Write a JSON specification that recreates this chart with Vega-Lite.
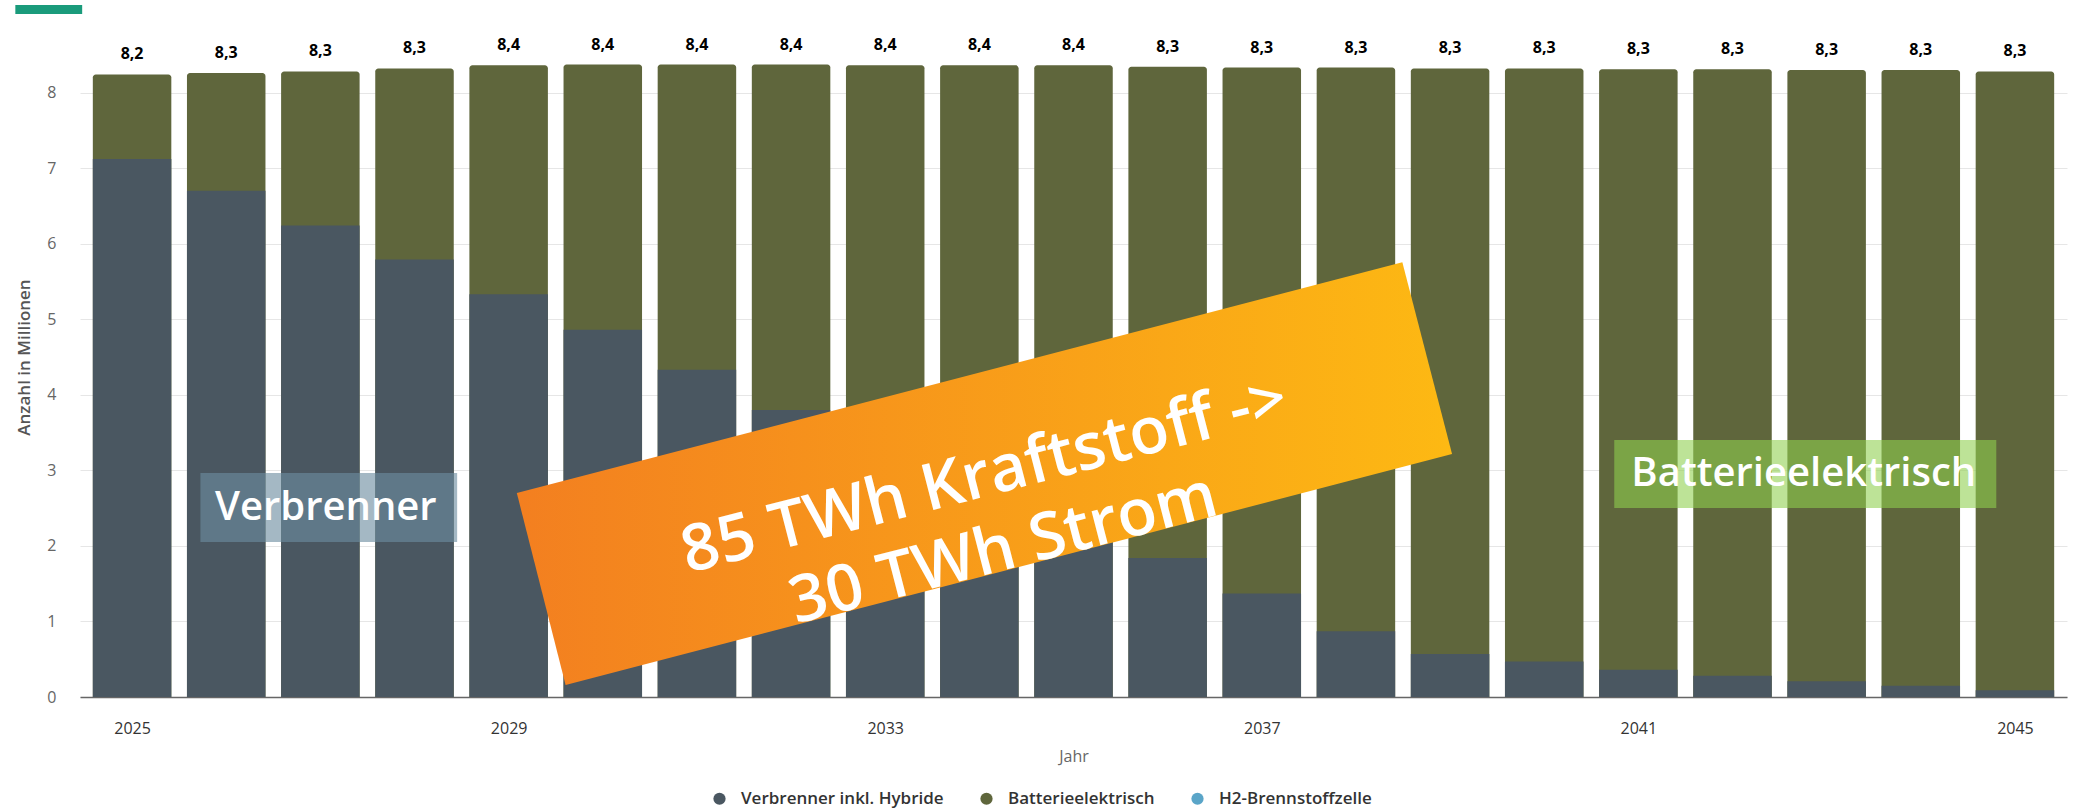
{
  "$schema": "https://vega.github.io/schema/vega-lite/v6.json",
  "width": 1987,
  "height": 680,
  "autosize": {"type": "none"},
  "padding": {"left": 80, "top": 17, "right": 11, "bottom": 113},
  "background": "white",
  "config": {
    "view": {"stroke": null},
    "font": "Open Sans",
    "locale": {"number": {"decimal": ",", "thousands": ".", "grouping": [3], "currency": ["", " €"]}},
    "legend": {
      "title": null, "orient": "none", "direction": "horizontal",
      "legendX": 631, "legendY": 773, "padding": 0,
      "symbolType": "circle", "symbolSize": 150, "symbolStrokeWidth": 0,
      "labelFontSize": 17, "labelFontWeight": 600, "labelColor": "#333333", "labelLimit": 400,
      "labelOffset": 13, "columnPadding": 34
    }
  },
  "datasets": {
    "fleet": [
      {"year": 2025, "type": "Verbrenner inkl. Hybride", "value": 7.12}, {"year": 2025, "type": "Batterieelektrisch", "value": 1.12},
      {"year": 2026, "type": "Verbrenner inkl. Hybride", "value": 6.70}, {"year": 2026, "type": "Batterieelektrisch", "value": 1.56},
      {"year": 2027, "type": "Verbrenner inkl. Hybride", "value": 6.24}, {"year": 2027, "type": "Batterieelektrisch", "value": 2.04},
      {"year": 2028, "type": "Verbrenner inkl. Hybride", "value": 5.79}, {"year": 2028, "type": "Batterieelektrisch", "value": 2.53},
      {"year": 2029, "type": "Verbrenner inkl. Hybride", "value": 5.33}, {"year": 2029, "type": "Batterieelektrisch", "value": 3.03},
      {"year": 2030, "type": "Verbrenner inkl. Hybride", "value": 4.86}, {"year": 2030, "type": "Batterieelektrisch", "value": 3.51},
      {"year": 2031, "type": "Verbrenner inkl. Hybride", "value": 4.33}, {"year": 2031, "type": "Batterieelektrisch", "value": 4.04},
      {"year": 2032, "type": "Verbrenner inkl. Hybride", "value": 3.80}, {"year": 2032, "type": "Batterieelektrisch", "value": 4.57},
      {"year": 2033, "type": "Verbrenner inkl. Hybride", "value": 3.31}, {"year": 2033, "type": "Batterieelektrisch", "value": 5.05},
      {"year": 2034, "type": "Verbrenner inkl. Hybride", "value": 2.82}, {"year": 2034, "type": "Batterieelektrisch", "value": 5.54},
      {"year": 2035, "type": "Verbrenner inkl. Hybride", "value": 2.33}, {"year": 2035, "type": "Batterieelektrisch", "value": 6.03},
      {"year": 2036, "type": "Verbrenner inkl. Hybride", "value": 1.84}, {"year": 2036, "type": "Batterieelektrisch", "value": 6.50},
      {"year": 2037, "type": "Verbrenner inkl. Hybride", "value": 1.37}, {"year": 2037, "type": "Batterieelektrisch", "value": 6.96},
      {"year": 2038, "type": "Verbrenner inkl. Hybride", "value": 0.87}, {"year": 2038, "type": "Batterieelektrisch", "value": 7.46},
      {"year": 2039, "type": "Verbrenner inkl. Hybride", "value": 0.57}, {"year": 2039, "type": "Batterieelektrisch", "value": 7.75},
      {"year": 2040, "type": "Verbrenner inkl. Hybride", "value": 0.47}, {"year": 2040, "type": "Batterieelektrisch", "value": 7.85},
      {"year": 2041, "type": "Verbrenner inkl. Hybride", "value": 0.36}, {"year": 2041, "type": "Batterieelektrisch", "value": 7.95},
      {"year": 2042, "type": "Verbrenner inkl. Hybride", "value": 0.28}, {"year": 2042, "type": "Batterieelektrisch", "value": 8.03},
      {"year": 2043, "type": "Verbrenner inkl. Hybride", "value": 0.21}, {"year": 2043, "type": "Batterieelektrisch", "value": 8.09},
      {"year": 2044, "type": "Verbrenner inkl. Hybride", "value": 0.15}, {"year": 2044, "type": "Batterieelektrisch", "value": 8.15},
      {"year": 2045, "type": "Verbrenner inkl. Hybride", "value": 0.09}, {"year": 2045, "type": "Batterieelektrisch", "value": 8.19}
    ],
    "banner": [
      {"i": 0, "x": 2029.087, "y": 2.699},
      {"i": 1, "x": 2038.493, "y": 5.755},
      {"i": 2, "x": 2039.021, "y": 3.215},
      {"i": 3, "x": 2029.605, "y": 0.159}
    ]
  },
  "layer": [
    {
      "data": {"name": "fleet"},
      "mark": {"type": "bar", "size": 78.5, "cornerRadiusTopLeft": 3, "cornerRadiusTopRight": 3},
      "encoding": {
        "x": {
          "field": "year", "type": "quantitative",
          "scale": {"domain": [2024.5, 2045.5], "nice": false, "zero": false},
          "axis": {
            "title": "Jahr", "values": [2025, 2029, 2033, 2037, 2041, 2045], "format": "d",
            "grid": false, "ticks": false, "tickSize": 0,
            "domainColor": "#666666", "domainWidth": 1.5,
            "labelFontSize": 16, "labelColor": "#333333", "labelPadding": 23, "labelFlush": false,
            "titleFontSize": 16, "titleFontWeight": "normal", "titleColor": "#666666", "titlePadding": 12
          }
        },
        "y": {
          "aggregate": "sum", "field": "value", "type": "quantitative",
          "scale": {"domain": [0, 9], "nice": false},
          "axis": {
            "title": "Anzahl in Millionen", "values": [0, 1, 2, 3, 4, 5, 6, 7, 8], "format": "d",
            "domain": false, "ticks": false, "tickSize": 0,
            "gridColor": "#e6e6e6", "gridWidth": 1,
            "labelFontSize": 16, "labelColor": "#666666", "labelPadding": 24,
            "titleFontSize": 17, "titleFontWeight": 600, "titleColor": "#555555", "titlePadding": 13
          }
        },
        "color": {
          "datum": "Batterieelektrisch", "type": "nominal",
          "scale": {
            "domain": ["Verbrenner inkl. Hybride", "Batterieelektrisch", "H2-Brennstoffzelle"],
            "range": ["#4a5761", "#5f663c", "#5aa5c8"]
          },
          "legend": {"title": null}
        }
      }
    },
    {
      "data": {"name": "fleet"},
      "transform": [{"filter": "datum.type === 'Verbrenner inkl. Hybride'"}],
      "mark": {"type": "bar", "size": 78.5},
      "encoding": {
        "x": {"field": "year", "type": "quantitative"},
        "y": {"field": "value", "type": "quantitative", "stack": null},
        "color": {"field": "type", "type": "nominal", "legend": {"title": null}}
      }
    },
    {
      "data": {"name": "fleet"},
      "mark": {"type": "text", "dy": -20, "baseline": "middle", "align": "center", "fontSize": 16, "fontWeight": "bold", "color": "#000000"},
      "encoding": {
        "x": {"field": "year", "type": "quantitative"},
        "y": {"aggregate": "sum", "field": "value", "type": "quantitative"},
        "text": {"aggregate": "sum", "field": "value", "type": "quantitative", "format": ".1f"}
      }
    },
    {
      "data": {"values": [{"x": 2023.76, "x2": 2024.47, "y": 9.039, "y2": 9.158}]},
      "mark": {"type": "rect", "color": "#1a9b7b"},
      "encoding": {
        "x": {"field": "x", "type": "quantitative"},
        "x2": {"field": "x2"},
        "y": {"field": "y", "type": "quantitative"},
        "y2": {"field": "y2"}
      }
    },
    {
      "data": {"values": [{"x": 2025.726, "x2": 2028.453, "y": 2.051, "y2": 2.964}]},
      "mark": {"type": "rect", "fill": "#6c8da0", "fillOpacity": 0.62},
      "encoding": {
        "x": {"field": "x", "type": "quantitative"},
        "x2": {"field": "x2"},
        "y": {"field": "y", "type": "quantitative"},
        "y2": {"field": "y2"}
      }
    },
    {
      "data": {"values": [{"label": "Verbrenner", "x": 2027.058, "y": 2.508}]},
      "mark": {"type": "text", "align": "center", "baseline": "middle", "fontSize": 40, "fontWeight": 600, "color": "#ffffff"},
      "encoding": {
        "x": {"field": "x", "type": "quantitative"},
        "y": {"field": "y", "type": "quantitative"},
        "text": {"field": "label", "type": "nominal"}
      }
    },
    {
      "data": {"values": [{"x": 2040.744, "x2": 2044.802, "y": 2.501, "y2": 3.4}]},
      "mark": {"type": "rect", "fill": "#8ecf4f", "fillOpacity": 0.59},
      "encoding": {
        "x": {"field": "x", "type": "quantitative"},
        "x2": {"field": "x2"},
        "y": {"field": "y", "type": "quantitative"},
        "y2": {"field": "y2"}
      }
    },
    {
      "data": {"values": [{"label": "Batterieelektrisch", "x": 2042.757, "y": 2.951}]},
      "mark": {"type": "text", "align": "center", "baseline": "middle", "fontSize": 40, "fontWeight": 600, "color": "#ffffff"},
      "encoding": {
        "x": {"field": "x", "type": "quantitative"},
        "y": {"field": "y", "type": "quantitative"},
        "text": {"field": "label", "type": "nominal"}
      }
    },
    {
      "data": {"name": "banner"},
      "mark": {
        "type": "line", "interpolate": "linear-closed", "filled": true, "strokeWidth": 0,
        "fill": {"gradient": "linear", "x1": 0, "y1": 0, "x2": 1, "y2": 0,
          "stops": [{"offset": 0, "color": "#f37f20"}, {"offset": 1, "color": "#fdb913"}]}
      },
      "encoding": {
        "x": {"field": "x", "type": "quantitative"},
        "y": {"field": "y", "type": "quantitative"},
        "order": {"field": "i", "type": "quantitative"}
      }
    },
    {
      "data": {"values": [{"label": "85 TWh Kraftstoff ->\n30 TWh Strom", "x": 2034.054, "y": 2.925}]},
      "mark": {"type": "text", "align": "center", "baseline": "middle", "lineBreak": "\n", "lineHeight": 76, "angle": -14.5, "fontSize": 65, "fontWeight": 600, "color": "#ffffff"},
      "encoding": {
        "x": {"field": "x", "type": "quantitative"},
        "y": {"field": "y", "type": "quantitative"},
        "text": {"field": "label", "type": "nominal"}
      }
    }
  ]
}
